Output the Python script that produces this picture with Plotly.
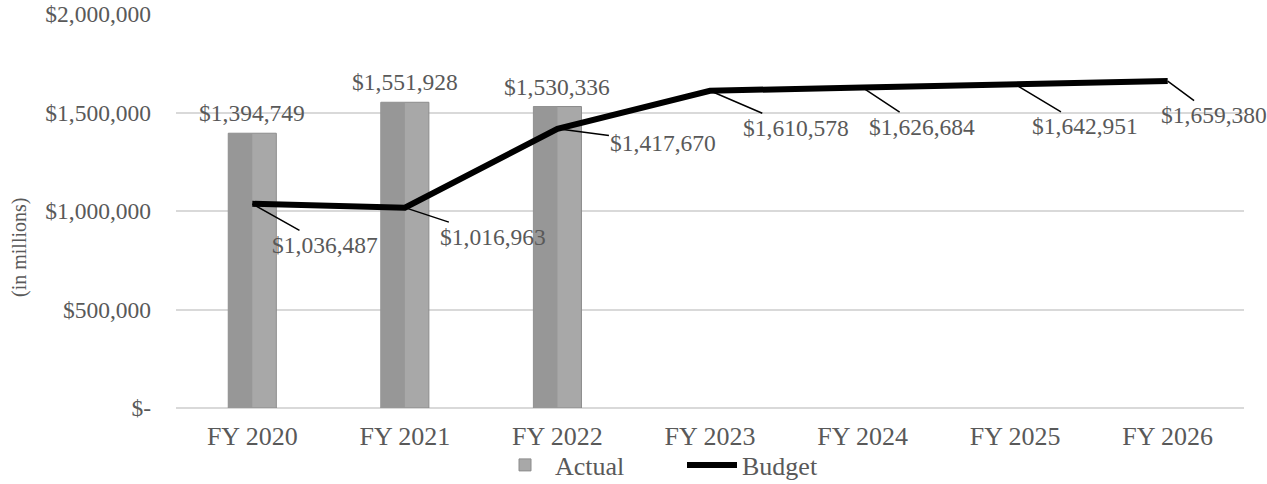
import plotly.graph_objects as go

categories = ["FY 2020", "FY 2021", "FY 2022", "FY 2023", "FY 2024", "FY 2025", "FY 2026"]
actual_cats = ["FY 2020", "FY 2021", "FY 2022"]
actual = [1394749, 1551928, 1530336]
budget = [1036487, 1016963, 1417670, 1610578, 1626684, 1642951, 1659380]
tick_vals = [0, 500000, 1000000, 1500000, 2000000]
tick_text = ["$-", "$500,000", "$1,000,000", "$1,500,000", "$2,000,000"]

# label offsets (pixels) for budget labels
budget_label_dx = [73, 88, 106, 86, 59, 70, 46]
budget_label_dy = [41, 29, 14, 37, 39, 42, 34]

FONT = "Liberation Serif"
TXT = "#595959"
FS_NUM = 23.5
FS_TXT = 26

W, H = 1267, 484
L, R, T, B = 176, 23, 14, 76
PW = W - L - R
PH = H - T - B

fig = go.Figure()
BW = 0.315
fig.add_trace(go.Bar(
    x=actual_cats, y=actual, name="Actual", width=BW,
    marker=dict(color="#a8a8a8", line=dict(color="#8c8c8c", width=1)),
))
fig.add_trace(go.Bar(
    x=actual_cats, y=actual, name="Actual", width=BW / 2, offset=-BW / 2,
    marker=dict(color="#979797", line=dict(width=0)), showlegend=False, hoverinfo="skip",
))
fig.add_trace(go.Scatter(
    x=categories, y=budget, name="Budget", mode="lines",
    line=dict(color="black", width=6),
))

for c, v in zip(actual_cats, actual):
    fig.add_annotation(x=c, y=v, text=f"${v:,}", showarrow=False, yanchor="bottom",
                       yshift=5, font=dict(family=FONT, size=FS_NUM, color=TXT))

for c, v, dx, dy in zip(categories, budget, budget_label_dx, budget_label_dy):
    fig.add_annotation(x=c, y=v, text=f"${v:,}", showarrow=True, arrowhead=0,
                       arrowwidth=1.5, arrowcolor="black", ax=dx, ay=dy, standoff=0,
                       font=dict(family=FONT, size=FS_NUM, color=TXT))

# y-axis title
fig.add_annotation(xref="paper", yref="paper", x=(19 - L) / PW,
                   y=(H - B - 248) / PH, xanchor="center", yanchor="middle",
                   text="(in millions)", textangle=-90, showarrow=False,
                   font=dict(family=FONT, size=20, color=TXT))

fig.update_layout(
    width=W, height=H,
    margin=dict(l=L, r=R, t=T, b=B, autoexpand=False),
    plot_bgcolor="white", paper_bgcolor="white",
    barmode="overlay",
    font=dict(family=FONT, size=FS_NUM, color=TXT),
    showlegend=True,
    legend=dict(orientation="h", x=682 / W, xanchor="center", xref="container",
                y=19 / H, yanchor="middle", yref="container",
                bgcolor="rgba(0,0,0,0)",
                font=dict(family=FONT, size=FS_TXT, color=TXT), traceorder="normal",
                itemwidth=50, entrywidth=122, entrywidthmode="pixels"),
    xaxis=dict(categoryorder="array", categoryarray=categories, range=[-0.5, 6.5],
               showgrid=False, showline=False, ticks="", automargin=False,
               ticklabelstandoff=10,
               tickfont=dict(family=FONT, size=FS_TXT, color=TXT)),
    yaxis=dict(range=[0, 2000000], tickvals=tick_vals, ticktext=tick_text,
               showgrid=True, gridcolor="#d9d9d9", gridwidth=1.5, zeroline=True,
               zerolinecolor="#d9d9d9", zerolinewidth=1.5, ticks="",
               ticklabelstandoff=24, automargin=False, ticklabeloverflow="allow",
               tickfont=dict(family=FONT, size=FS_NUM, color=TXT)),
)

fig.write_html("out.html", config={"displayModeBar": False},
               post_script="document.body.style.margin='0';")
